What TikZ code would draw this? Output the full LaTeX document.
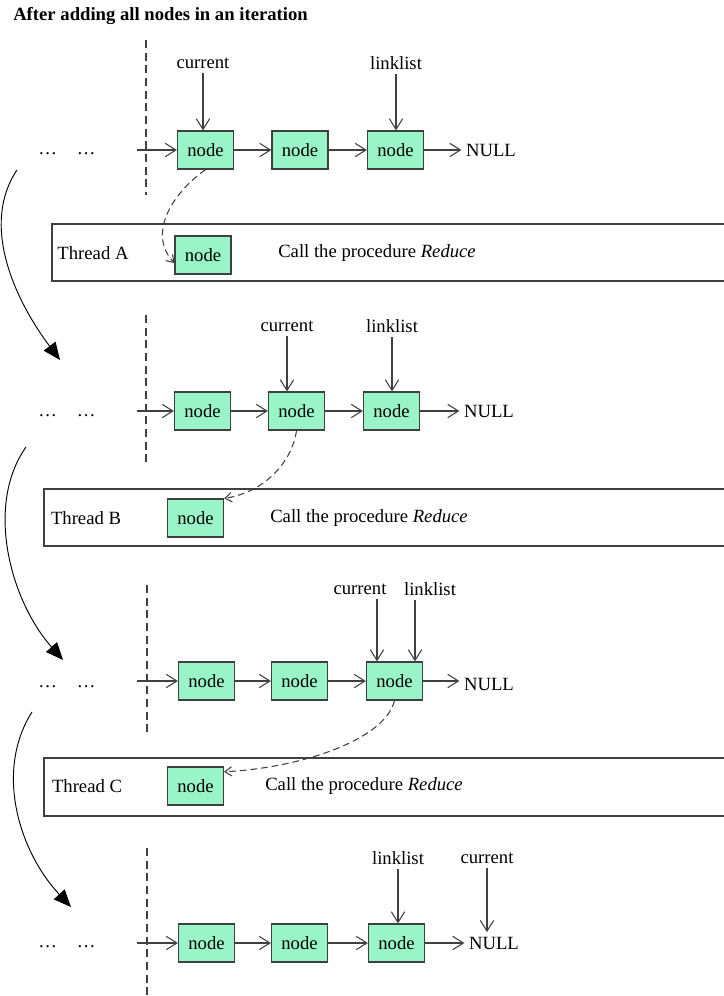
\documentclass[tikz,border=0pt]{standalone}
\usepackage{fontspec}
\setmainfont{Liberation Serif}
\usetikzlibrary{arrows.meta}
\definecolor{mint}{RGB}{153,245,200}
\definecolor{edge}{RGB}{64,64,64}
\tikzset{>={Straight Barb[length=8pt,width=10pt]}}
\tikzset{
  lnode/.style={draw=edge,fill=mint,line width=0.9pt,minimum width=42pt,minimum height=28.5pt,inner sep=0pt},
  link/.style={->,draw=edge,line width=0.8pt},
  passto/.style={draw=edge,line width=0.8pt,dash pattern=on 5pt off 3pt,-{Straight Barb[length=5pt,width=7pt]}},
  sep/.style={draw=edge,line width=0.8pt,dash pattern=on 6pt off 3.5pt},
  tbox/.style={draw=edge,line width=0.9pt},
  turn/.style={line width=0.7pt,-{Triangle[length=13pt,width=11pt]}}
}

\begin{document}
\begin{tikzpicture}[x=0.75pt,y=-0.75pt,font=\fontsize{14}{17}\selectfont]
\useasboundingbox (0,0) rectangle (724,996);
\node[anchor=west,inner sep=0pt] (title) at (13,16) {\bfseries After adding all nodes in an iteration};
% first iteration
\node (dots1) at (67,154) {\dots\hspace{15pt}\dots};
\draw[sep] (146,40) -- (146,195);
\coordinate (in1) at (137,150);
\node[lnode] (n11) at (205.5,150) {node};
\node[lnode] (n12) at (300,150) {node};
\node[lnode] (n13) at (395.5,150) {node};
\node (null1) at (491,150) {NULL};
\node (cur1) at (203,63) {current};
\node (lk1) at (396,63) {linklist};
\draw[link] (in1) -- (n11);
\draw[link] (n11) -- (n12);
\draw[link] (n12) -- (n13);
\draw[link] (n13) -- (null1);
\draw[link] (cur1) -- (cur1 |- n11.north);
\draw[link] (lk1) -- (lk1 |- n13.north);
\draw[tbox] (740,224) -- (52,224) -- (52,281) -- (740,281);
\node (thA) at (93,253) {Thread A};
\node[lnode] (ta) at (203,255) {node};
\node (callA) at (377,253) {Call the procedure \textit{Reduce}};
\draw[passto] (n11.south) .. controls (170,195) and (148,235) .. (ta.west |- 0,263);
\coordinate (s1) at (17,170);
\coordinate (e1) at (60,360);
\draw[turn] (s1) .. controls (-20,225) and (15,300) .. (e1);
% second iteration
\node (dots2) at (67,416) {\dots\hspace{15pt}\dots};
\draw[sep] (146,315) -- (146,463);
\coordinate (in2) at (137,411);
\node[lnode] (n21) at (202.5,411) {node};
\node[lnode] (n22) at (296.5,411) {node};
\node[lnode] (n23) at (391.5,411) {node};
\node (null2) at (489,411) {NULL};
\node (cur2) at (287,326) {current};
\node (lk2) at (392,326) {linklist};
\draw[link] (in2) -- (n21);
\draw[link] (n21) -- (n22);
\draw[link] (n22) -- (n23);
\draw[link] (n23) -- (null2);
\draw[link] (cur2) -- (cur2 |- n22.north);
\draw[link] (lk2) -- (lk2 |- n23.north);
\draw[tbox] (740,489) -- (44,489) -- (44,546) -- (740,546);
\node (thB) at (86,518) {Thread B};
\node[lnode] (tb) at (195.5,518) {node};
\node (callB) at (369,518) {Call the procedure \textit{Reduce}};
\draw[passto] (n22.south) .. controls (292,462) and (265,492) .. (tb.north east);
\coordinate (s2) at (26,447);
\coordinate (e2) at (63,660);
\draw[turn] (s2) .. controls (-15,505) and (10,600) .. (e2);
% third iteration
\node (dots3) at (67,687) {\dots\hspace{15pt}\dots};
\draw[sep] (147,585) -- (147,735);
\coordinate (in3) at (137,681);
\node[lnode] (n31) at (206.5,681) {node};
\node[lnode] (n32) at (299.5,681) {node};
\node[lnode] (n33) at (394.5,681) {node};
\node (null3) at (489,684) {NULL};
\node (cur3) at (360,589) {current};
\node (lk3) at (430,589) {linklist};
\draw[link] (in3) -- (n31);
\draw[link] (n31) -- (n32);
\draw[link] (n32) -- (n33);
\draw[link] (n33) -- (n33 -| null3.west);
\draw[link] ([xshift=12.75pt]cur3.south) -- ([xshift=12.75pt]cur3.south |- n33.north);
\draw[link] ([xshift=-11.25pt]lk3.south) -- ([xshift=-11.25pt]lk3.south |- n33.north);
\draw[tbox] (740,758) -- (44,758) -- (44,816) -- (740,816);
\node (thC) at (87,786) {Thread C};
\node[lnode] (tc) at (195.5,786) {node};
\node (callC) at (364,786) {Call the procedure \textit{Reduce}};
\draw[passto] (n33.south) .. controls (385,740) and (300,768) .. ([yshift=-4pt]tc.north east);
\coordinate (s3) at (32,712);
\coordinate (e3) at (71,907);
\draw[turn] (s3) .. controls (-5,770) and (18,850) .. (e3);
% fourth iteration
\node (dots4) at (67,947) {\dots\hspace{15pt}\dots};
\draw[sep] (147,848) -- (147,996);
\coordinate (in4) at (137,943);
\node[lnode] (n41) at (206.5,943) {node};
\node[lnode] (n42) at (299.5,943) {node};
\node[lnode] (n43) at (396.5,943) {node};
\node (null4) at (494,943) {NULL};
\node (lk4) at (398,858) {linklist};
\node (cur4) at (487,858) {current};
\draw[link] (in4) -- (n41);
\draw[link] (n41) -- (n42);
\draw[link] (n42) -- (n43);
\draw[link] (n43) -- (null4);
\draw[link] (lk4) -- (lk4 |- n43.north);
\draw[link] (cur4) -- (cur4 |- null4.north);
\end{tikzpicture}
\end{document}
